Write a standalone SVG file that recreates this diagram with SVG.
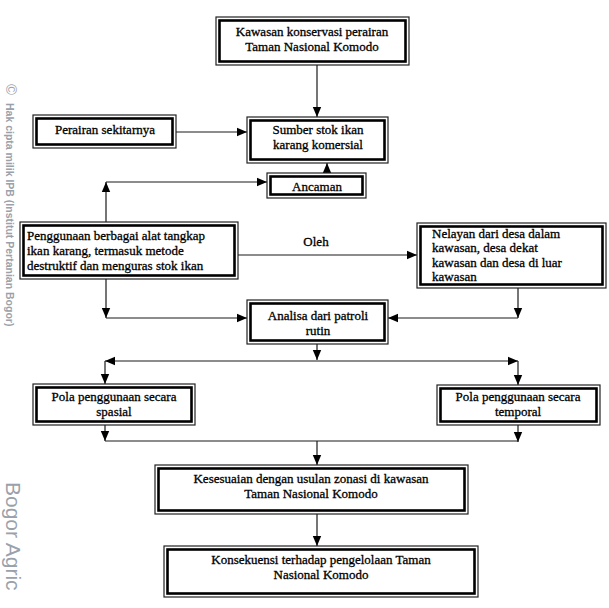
<svg xmlns="http://www.w3.org/2000/svg" width="609" height="608" viewBox="0 0 609 608">
<style>
.o{fill:#fff;stroke:#222;stroke-width:1.2}
.i{fill:none;stroke:#000;stroke-width:2.6}
.t{font-family:"Liberation Serif","Times New Roman",serif;font-size:13px;fill:#000;stroke:#000;stroke-width:0.3}
.c{text-anchor:middle}
.ln{fill:none;stroke:#1a1a1a;stroke-width:1.2}
.wm{font-family:"Liberation Sans",Arial,sans-serif;fill:#9aa1aa}
</style>
<defs>
<marker id="a" markerUnits="userSpaceOnUse" markerWidth="10" markerHeight="10" viewBox="0 0 10 10" refX="10" refY="5" orient="auto">
<path d="M0,0.8 L10,5 L0,9.2 Z" fill="#000"/>
</marker>
</defs>
<rect width="609" height="608" fill="#fff"/>
<g id="watermark">
<text class="wm" transform="translate(6,84) rotate(90)" font-size="15">©</text>
<text class="wm" transform="translate(6,103) rotate(90)" font-size="10.5" font-weight="bold">Hak cipta milik IPB (Institut Pertanian Bogor)</text>
<text class="wm" transform="translate(6,482) rotate(90)" font-size="21">Bogor Agric</text>
</g>
<g id="connectors">
<line class="ln" x1="317" y1="65" x2="317" y2="117" marker-end="url(#a)"/>
<line class="ln" x1="176" y1="132" x2="247" y2="132" marker-end="url(#a)"/>
<line class="ln" x1="327" y1="173" x2="327" y2="163" marker-end="url(#a)"/>
<line class="ln" x1="106" y1="222" x2="106" y2="182" marker-end="url(#a)"/>
<line class="ln" x1="106" y1="182" x2="267" y2="182" marker-end="url(#a)"/>
<line class="ln" x1="238" y1="255" x2="417" y2="255" marker-end="url(#a)"/>
<text class="t c" x="316" y="246">Oleh</text>
<line class="ln" x1="106" y1="279" x2="106" y2="318" marker-end="url(#a)"/>
<line class="ln" x1="106" y1="318" x2="247" y2="318" marker-end="url(#a)"/>
<line class="ln" x1="518" y1="288" x2="518" y2="318" marker-end="url(#a)"/>
<line class="ln" x1="518" y1="318" x2="388" y2="318" marker-end="url(#a)"/>
<line class="ln" x1="317" y1="344" x2="317" y2="360" marker-end="url(#a)"/>
<line class="ln" x1="317" y1="361" x2="105" y2="361" marker-end="url(#a)"/>
<line class="ln" x1="317" y1="361" x2="518" y2="361" marker-end="url(#a)"/>
<line class="ln" x1="105" y1="361" x2="105" y2="384" marker-end="url(#a)"/>
<line class="ln" x1="518" y1="361" x2="518" y2="385" marker-end="url(#a)"/>
<line class="ln" x1="105" y1="424" x2="105" y2="441" marker-end="url(#a)"/>
<line class="ln" x1="518" y1="425" x2="518" y2="442" marker-end="url(#a)"/>
<line class="ln" x1="105" y1="441" x2="518" y2="441"/>
<line class="ln" x1="317" y1="441" x2="317" y2="465" marker-end="url(#a)"/>
<line class="ln" x1="317" y1="514" x2="317" y2="546" marker-end="url(#a)"/>
</g>
<g id="n1">
<rect class="o" x="216" y="17" width="193" height="48"/><rect class="i" x="219.5" y="20.5" width="186" height="41"/>
<text class="t c" x="312" y="36">Kawasan konservasi perairan</text>
<text class="t c" x="312" y="51">Taman Nasional Komodo</text>
</g>
<g id="n2">
<rect class="o" x="247" y="117" width="141" height="46"/><rect class="i" x="250.5" y="120.5" width="134" height="39"/>
<text class="t c" x="318" y="134">Sumber stok ikan</text>
<text class="t c" x="318" y="149">karang komersial</text>
</g>
<g id="n3">
<rect class="o" x="267" y="173" width="99" height="25"/><rect class="i" x="270.5" y="176.5" width="92" height="18"/>
<text class="t c" x="317" y="191">Ancaman</text>
</g>
<g id="n4">
<rect class="o" x="33" y="115" width="143" height="33"/><rect class="i" x="36.5" y="118.5" width="136" height="26"/>
<text class="t c" x="105" y="134">Perairan sekitarnya</text>
</g>
<g id="n5">
<rect class="o" x="20" y="222" width="218" height="57"/><rect class="i" x="23.5" y="225.5" width="211" height="50"/>
<text class="t" x="27" y="240">Penggunaan berbagai alat tangkap</text>
<text class="t" x="27" y="255">ikan karang, termasuk metode</text>
<text class="t" x="27" y="270">destruktif dan menguras stok ikan</text>
</g>
<g id="n6">
<rect class="o" x="417" y="223" width="189" height="65"/><rect class="i" x="420.5" y="226.5" width="182" height="58"/>
<text class="t" x="432" y="238">Nelayan dari desa dalam</text>
<text class="t" x="432" y="252">kawasan, desa dekat</text>
<text class="t" x="432" y="267">kawasan dan desa di luar</text>
<text class="t" x="432" y="281">kawasan</text>
</g>
<g id="n7">
<rect class="o" x="247" y="300" width="141" height="44"/><rect class="i" x="250.5" y="303.5" width="134" height="37"/>
<text class="t c" x="318" y="320">Analisa dari  patroli</text>
<text class="t c" x="318" y="335">rutin</text>
</g>
<g id="n8">
<rect class="o" x="33" y="384" width="162" height="41"/><rect class="i" x="36.5" y="387.5" width="155" height="34"/>
<text class="t c" x="114" y="401">Pola penggunaan secara</text>
<text class="t c" x="114" y="416">spasial</text>
</g>
<g id="n9">
<rect class="o" x="437" y="385" width="163" height="40"/><rect class="i" x="440.5" y="388.5" width="156" height="33"/>
<text class="t c" x="518" y="401">Pola penggunaan secara</text>
<text class="t c" x="518" y="416">temporal</text>
</g>
<g id="n10">
<rect class="o" x="155" y="465" width="313" height="49"/><rect class="i" x="158.5" y="468.5" width="306" height="42"/>
<text class="t c" x="311" y="483">Kesesuaian dengan usulan zonasi di kawasan</text>
<text class="t c" x="311" y="498">Taman Nasional Komodo</text>
</g>
<g id="n11">
<rect class="o" x="164" y="546" width="314" height="51"/><rect class="i" x="167.5" y="549.5" width="307" height="44"/>
<text class="t c" x="321" y="564">Konsekuensi terhadap pengelolaan Taman</text>
<text class="t c" x="321" y="579">Nasional Komodo</text>
</g>
</svg>
